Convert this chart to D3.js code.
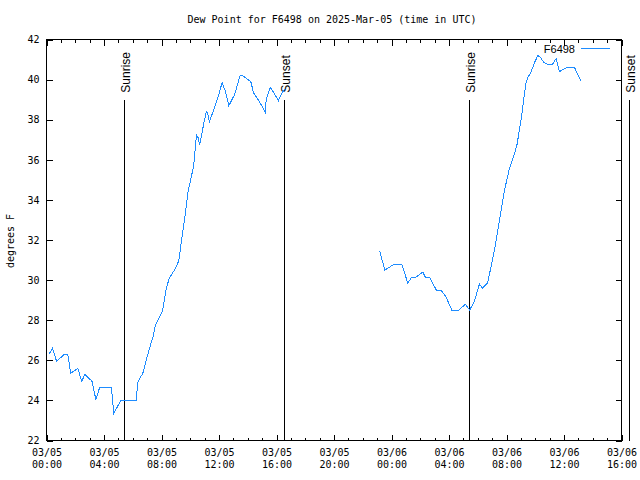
<!DOCTYPE html>
<html>
<head>
<meta charset="utf-8">
<script src="https://cdn.jsdelivr.net/npm/d3@7"></script>
<style>
  html, body { margin: 0; padding: 0; background: #fff; }
  svg { display: block; }
</style>
</head>
<body>
<svg id="chart" width="640" height="480"></svg>
<script>
// ---- data (UTC) ----
const times = [
  "2025-03-05T00:10","2025-03-05T00:25","2025-03-05T00:42","2025-03-05T01:15","2025-03-05T01:29",
  "2025-03-05T01:41","2025-03-05T02:11","2025-03-05T02:27","2025-03-05T02:40","2025-03-05T03:01",
  "2025-03-05T03:09","2025-03-05T03:26","2025-03-05T03:42","2025-03-05T04:31","2025-03-05T04:41",
  "2025-03-05T05:10","2025-03-05T06:14","2025-03-05T06:21","2025-03-05T06:32","2025-03-05T06:42",
  "2025-03-05T06:56","2025-03-05T07:10","2025-03-05T07:24","2025-03-05T07:35","2025-03-05T07:52",
  "2025-03-05T08:05","2025-03-05T08:20","2025-03-05T08:33","2025-03-05T08:54","2025-03-05T09:12",
  "2025-03-05T09:22","2025-03-05T09:36","2025-03-05T09:50","2025-03-05T10:04","2025-03-05T10:14",
  "2025-03-05T10:21","2025-03-05T10:26","2025-03-05T10:33","2025-03-05T10:39","2025-03-05T10:50",
  "2025-03-05T10:57","2025-03-05T11:07","2025-03-05T11:12","2025-03-05T11:20","2025-03-05T11:41",
  "2025-03-05T11:59","2025-03-05T12:13","2025-03-05T12:27","2025-03-05T12:41","2025-03-05T13:05",
  "2025-03-05T13:28","2025-03-05T13:39","2025-03-05T14:07","2025-03-05T14:14","2025-03-05T14:24",
  "2025-03-05T14:38","2025-03-05T14:56","2025-03-05T15:13","2025-03-05T15:17","2025-03-05T15:34",
  "2025-03-05T15:49","2025-03-05T16:08","2025-03-05T16:26","2025-03-05T16:38",
  "2025-03-05T20:00",
  "2025-03-05T23:11","2025-03-05T23:32","2025-03-05T23:45","2025-03-06T00:13","2025-03-06T00:43",
  "2025-03-06T01:08","2025-03-06T01:25","2025-03-06T01:43","2025-03-06T02:11","2025-03-06T02:21",
  "2025-03-06T02:39","2025-03-06T03:07","2025-03-06T03:27","2025-03-06T03:48","2025-03-06T04:12",
  "2025-03-06T04:40","2025-03-06T05:09","2025-03-06T05:26","2025-03-06T05:46","2025-03-06T06:07",
  "2025-03-06T06:20","2025-03-06T06:41","2025-03-06T07:10","2025-03-06T07:31","2025-03-06T07:52",
  "2025-03-06T08:13","2025-03-06T08:33","2025-03-06T08:43","2025-03-06T09:01","2025-03-06T09:15",
  "2025-03-06T09:22","2025-03-06T09:29","2025-03-06T09:43","2025-03-06T09:57","2025-03-06T10:11",
  "2025-03-06T10:22","2025-03-06T10:36","2025-03-06T10:53","2025-03-06T11:11","2025-03-06T11:27",
  "2025-03-06T11:41","2025-03-06T11:55","2025-03-06T12:12","2025-03-06T12:44","2025-03-06T13:12"
];
const dewpoint = [
  26.3,26.6,25.95,26.3,26.3,
  25.35,25.6,24.95,25.3,25.05,
  25.0,24.05,24.65,24.65,23.35,
  24.0,24.0,24.9,25.15,25.35,
  26.0,26.6,27.15,27.75,28.15,
  28.5,29.6,30.1,30.5,30.95,
  31.85,33.0,34.35,35.15,35.65,
  36.6,37.25,37.1,36.75,37.4,
  37.85,38.4,38.35,37.9,38.6,
  39.25,39.85,39.4,38.7,39.25,
  40.2,40.2,39.95,39.85,39.35,
  39.1,38.75,38.35,39.0,39.6,
  39.35,38.95,39.4,39.55,
  null,
  31.45,30.5,30.6,30.8,30.8,
  29.85,30.15,30.15,30.4,30.15,
  30.15,29.5,29.5,29.15,28.5,
  28.5,28.8,28.5,28.95,29.8,
  29.6,29.85,31.5,33.0,34.5,
  35.6,36.3,36.7,38.0,39.3,
  39.85,40.1,40.4,40.85,41.2,
  41.1,40.85,40.75,40.75,41.05,
  40.4,40.5,40.6,40.6,39.9
];
const sunEvents = ["2025-03-05T05:23","2025-03-05T16:30","2025-03-06T05:23","2025-03-06T16:31"];
const sunLabels = ["Sunrise","Sunset","Sunrise","Sunset"];
const yTicks = [22,24,26,28,30,32,34,36,38,40,42];
const xDomain = ["2025-03-05T00:00","2025-03-06T16:00"];
const seriesName = "F6498";
const titleText = "Dew Point for F6498 on 2025-Mar-05 (time in UTC)";
const yLabel = "degrees F";

// ---- drawing ----
const parse = s => new Date(s + ":00Z");
const svg = d3.select("#chart");
const L = 46.5, R = 621.5, T = 39.5, B = 440.5;
const mono = "'DejaVu Sans Mono', monospace";
const sans = "'Liberation Sans', Arial, sans-serif";

const x = d3.scaleUtc().domain(xDomain.map(parse)).range([L, R]);
const y = d3.scaleLinear().domain([22, 42]).range([B, T]);

const data = times.map((t, i) => ({t: parse(t), v: dewpoint[i]}));

const majorX = d3.utcHour.every(4).range(x.domain()[0], d3.utcHour.offset(x.domain()[1], 1));
const minorX = d3.utcHour.every(1).range(x.domain()[0], d3.utcHour.offset(x.domain()[1], 1)).filter(d => d.getUTCHours() % 4 !== 0);

function styleAxis(g) {
  g.select(".domain").remove();
  g.selectAll("line").attr("stroke", "#000").attr("shape-rendering", "crispEdges");
  g.selectAll("text").attr("fill", "#000").style("font-family", mono).style("font-size", "10px");
}

// bottom axis (major with labels)
const gb = svg.append("g").attr("transform", `translate(0,${B})`)
  .call(d3.axisBottom(x).tickValues(majorX).tickSizeInner(-6).tickSizeOuter(0).tickPadding(8).tickFormat(""));
styleAxis(gb);
gb.selectAll(".tick text").each(function(d) {
  const t = d3.select(this);
  t.append("tspan").attr("x", 0).attr("dy", "0.71em").text(d3.utcFormat("%m/%d")(d));
  t.append("tspan").attr("x", 0).attr("dy", "1.2em").text(d3.utcFormat("%H:%M")(d));
}).attr("dy", null);
// bottom minor
styleAxis(svg.append("g").attr("transform", `translate(0,${B})`)
  .call(d3.axisBottom(x).tickValues(minorX).tickSizeInner(-3).tickSizeOuter(0).tickFormat("")));
// top axis (mirror)
styleAxis(svg.append("g").attr("transform", `translate(0,${T})`)
  .call(d3.axisTop(x).tickValues(majorX).tickSizeInner(-6).tickSizeOuter(0).tickFormat("")));
styleAxis(svg.append("g").attr("transform", `translate(0,${T})`)
  .call(d3.axisTop(x).tickValues(minorX).tickSizeInner(-3).tickSizeOuter(0).tickFormat("")));

// left axis
const gl = svg.append("g").attr("transform", `translate(${L},0)`)
  .call(d3.axisLeft(y).tickValues(yTicks).tickSizeInner(-6).tickSizeOuter(0).tickPadding(7).tickFormat(d3.format("d")));
styleAxis(gl);
// right axis mirror
styleAxis(svg.append("g").attr("transform", `translate(${R},0)`)
  .call(d3.axisRight(y).tickValues(yTicks).tickSizeInner(-6).tickSizeOuter(0).tickFormat("")));

// border
svg.append("rect").attr("x", L).attr("y", T).attr("width", R - L).attr("height", B - T)
  .attr("fill", "none").attr("stroke", "#000").attr("stroke-width", 1).attr("shape-rendering", "crispEdges");

// sunrise / sunset lines
sunEvents.forEach((s, i) => {
  const xx = Math.round(x(parse(s))) + 0.5;
  svg.append("line").attr("x1", xx).attr("x2", xx).attr("y1", y(39)).attr("y2", B)
    .attr("stroke", "#000").attr("stroke-width", 1).attr("shape-rendering", "crispEdges");
  svg.append("text")
    .attr("transform", `translate(${xx + 5},${y(39) - 7}) rotate(-90)`)
    .attr("text-anchor", "start")
    .style("font-family", sans).style("font-size", "12px").attr("fill", "#000")
    .text(sunLabels[i]);
});

// data line
const line = d3.line().defined(d => d.v !== null).x(d => x(d.t)).y(d => y(d.v));
svg.append("path").datum(data).attr("d", line)
  .attr("fill", "none").attr("stroke", "#1e8cff").attr("stroke-width", 1)
  .attr("shape-rendering", "crispEdges");

// legend
svg.append("text").attr("x", 575).attr("y", 53).attr("text-anchor", "end")
  .style("font-family", sans).style("font-size", "11px").attr("fill", "#000").text(seriesName);
svg.append("line").attr("x1", 581).attr("x2", 610).attr("y1", 48.5).attr("y2", 48.5)
  .attr("stroke", "#1e8cff").attr("stroke-width", 1).attr("shape-rendering", "crispEdges");

// title
svg.append("text").attr("x", 332).attr("y", 23).attr("text-anchor", "middle")
  .style("font-family", mono).style("font-size", "10px").attr("fill", "#000").text(titleText);

// y label
svg.append("text").attr("transform", `translate(14,241) rotate(-90)`).attr("text-anchor", "middle")
  .style("font-family", mono).style("font-size", "10px").attr("fill", "#000").text(yLabel);
</script>
</body>
</html>
